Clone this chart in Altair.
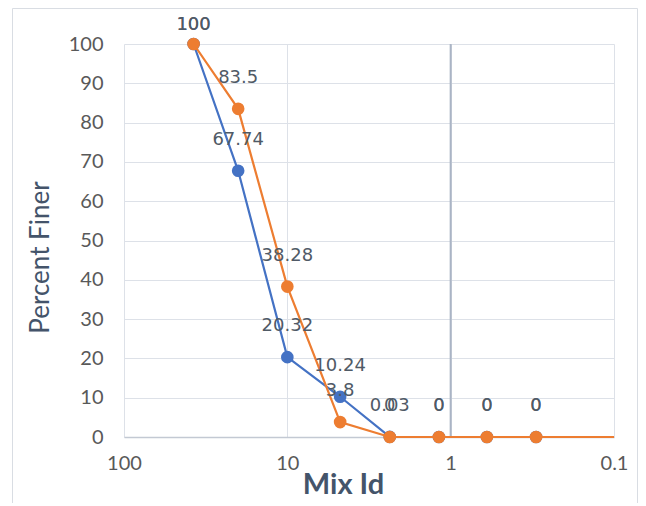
import altair as alt
import pandas as pd

# Sieve sizes (log x axis, reversed) and percent finer for the two mixes
sizes = [37.5, 20, 10, 4.75, 2.36, 1.18, 0.6, 0.3]
series_blue = [100, 67.74, 20.32, 10.24, 0.03, 0, 0, 0]
series_orange = [100, 83.5, 38.28, 3.8, 0, 0, 0, 0]
orange_tail_size = 0.1
orange_tail_value = 0
x_ticks = [100, 10, 1, 0.1]
y_ticks = [0, 10, 20, 30, 40, 50, 60, 70, 80, 90, 100]
x_title = "Mix Id"
y_title = "Percent Finer"

BLUE = "#4472C4"
ORANGE = "#ED7D31"
TXT = "#505a66"

rows = []
for i, (s, v) in enumerate(zip(sizes, series_blue)):
    rows.append({"size": s, "value": v, "series": "A", "idx": i, "marker": True,
                 "label": f"{v:g}"})
for i, (s, v) in enumerate(zip(sizes, series_orange)):
    rows.append({"size": s, "value": v, "series": "B", "idx": i, "marker": True,
                 "label": f"{v:g}"})
rows.append({"size": orange_tail_size, "value": orange_tail_value, "series": "B",
             "idx": len(sizes), "marker": False, "label": ""})
df = pd.DataFrame(rows)

xenc = alt.X("size:Q",
             scale=alt.Scale(type="log", domain=[0.1, 100], reverse=True, nice=False),
             axis=alt.Axis(values=x_ticks, labelExpr="datum.value + ''", title=x_title,
                           grid=True, gridColor="#dde1e8", ticks=False,
                           domain=True, domainColor="#c3c9d3", domainWidth=1.5,
                           labelFont="Lato", labelFontSize=20, labelColor="#595959",
                           labelPadding=16, labelFlush=False,
                           titleFont="Lato", titleFontSize=29, titleFontWeight="bold",
                           titleColor="#44546a", titleX=219, titleY=47,
                           titleBaseline="middle", titleAlign="center"))
yenc = alt.Y("value:Q",
             scale=alt.Scale(domain=[0, 100], nice=False),
             axis=alt.Axis(values=y_ticks, title=y_title, grid=True, gridColor="#dde1e8",
                           ticks=False, domain=False,
                           labelFont="Lato", labelFontSize=20, labelColor="#595959",
                           labelPadding=21,
                           titleFont="Lato", titleFontSize=26, titleFontWeight="normal",
                           titleColor="#44546a", titleX=-84, titleY=213, titleAngle=-90,
                           titleBaseline="middle", titleAlign="center"))

base = alt.Chart(df)

one_line = alt.Chart(pd.DataFrame({"size": [1]})).mark_rule(
    color="#aab4c5", strokeWidth=2).encode(x=alt.X("size:Q"))

frame = alt.Chart(pd.DataFrame({"k": [0]})).mark_rule(color="#d9dde3", strokeWidth=1)
frame_left = frame.encode(x=alt.value(-111.5), y=alt.value(-35.5), y2=alt.value(470))
frame_top = frame.encode(x=alt.value(-111.5), x2=alt.value(513.5), y=alt.value(-35.5))
frame_right = frame.encode(x=alt.value(513.5), y=alt.value(-35.5), y2=alt.value(470))


def series_layers(key, color):
    sub = base.transform_filter(f"datum.series == '{key}'")
    line = sub.mark_line(color=color, strokeWidth=2.2).encode(
        x=xenc, y=yenc, order="idx:Q")
    pts = sub.transform_filter("datum.marker").mark_point(
        filled=True, opacity=1, size=160, color=color, shape="circle").encode(
        x=xenc, y=yenc)
    return [line, pts]


labels = base.transform_filter("datum.marker && datum.value < 100").mark_text(
    font="DejaVu Sans", fontSize=18, color=TXT, dy=-31, baseline="middle",
    align="center").encode(x=xenc, y=yenc, text="label:N")
top_labels = base.transform_filter("datum.marker && datum.value >= 100").mark_text(
    font="DejaVu Sans", fontSize=18, color=TXT, dy=-19, baseline="middle",
    align="center").encode(x=xenc, y=yenc, text="label:N")

chart = alt.layer(
    frame_left, frame_top, frame_right, one_line,
    *series_layers("A", BLUE), *series_layers("B", ORANGE), labels, top_labels
).properties(
    width=490, height=393,
    autosize=alt.AutoSizeParams(type="none"),
    padding={"left": 116, "top": 36, "right": 24, "bottom": 66},
).configure_view(stroke=None)

chart.save("out.html", embed_options={"renderer": "svg", "actions": False})
